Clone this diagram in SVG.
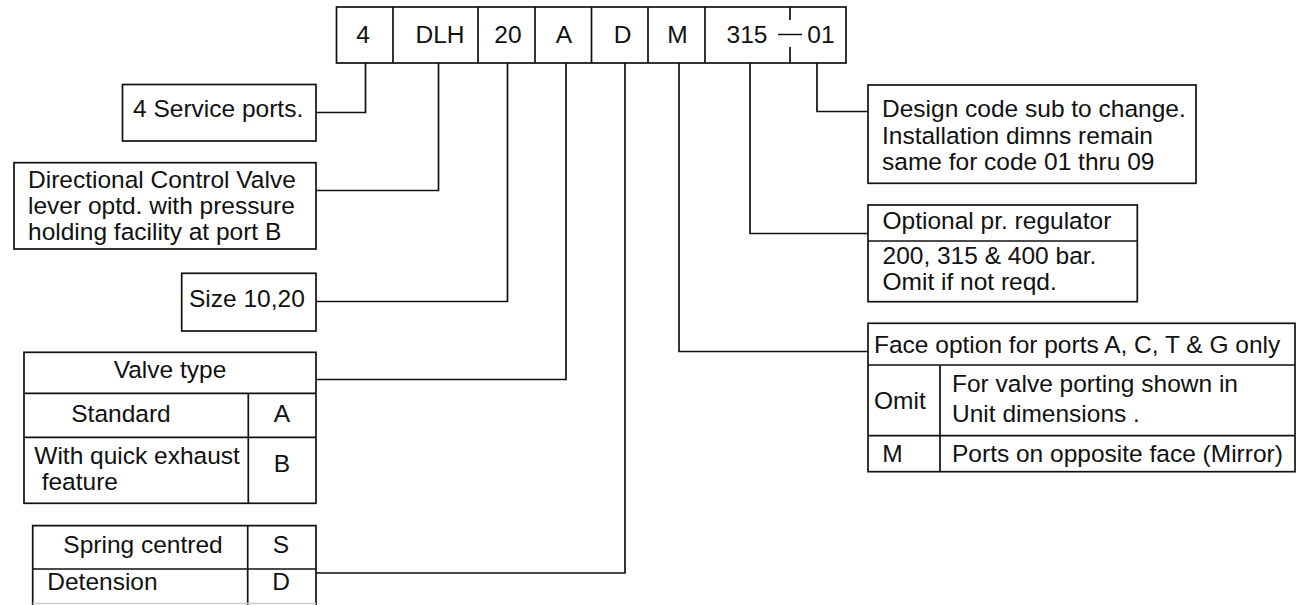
<svg xmlns="http://www.w3.org/2000/svg" width="1303" height="605" viewBox="0 0 1303 605">
<style>
.b{fill:#fff;stroke:#111;stroke-width:1.7}
.l{fill:none;stroke:#111;stroke-width:1.7}
.t{font-family:"Liberation Sans",Arial,sans-serif;font-size:24.5px;fill:#111}
.c{text-anchor:middle}
</style>
<rect width="1303" height="605" fill="#fff"/>
<g id="code">
<rect class="b" x="336.5" y="7" width="509.5" height="56"/>
<path class="l" d="M393 7V63M478 7V63M535 7V63M591.5 7V63M648 7V63M705 7V63M790 7V20M790 47V63M778 34.5H802"/>
<text class="t c" x="363" y="43">4</text>
<text class="t c" x="440" y="43">DLH</text>
<text class="t c" x="508" y="43">20</text>
<text class="t c" x="564" y="43">A</text>
<text class="t c" x="622.5" y="43">D</text>
<text class="t c" x="677.5" y="43">M</text>
<text class="t c" x="747" y="43">315</text>
<text class="t c" x="821" y="43">01</text>
</g>
<g id="connectors">
<path class="l" d="M365.5 63V112.5H316"/>
<path class="l" d="M438.5 63V190.5H316"/>
<path class="l" d="M507.5 63V301.5H316"/>
<path class="l" d="M566 63V379.5H316"/>
<path class="l" d="M625 63V573H316"/>
<path class="l" d="M679 63V351.5H868"/>
<path class="l" d="M750 63V233.5H868"/>
<path class="l" d="M817 63V111.5H868"/>
</g>
<g id="ports">
<rect class="b" x="122.5" y="84.5" width="193.5" height="56.5"/>
<text class="t" x="133" y="117">4 Service ports.</text>
</g>
<g id="dcv">
<rect class="b" x="14" y="162.7" width="302" height="86.3"/>
<text class="t" x="28" y="188">Directional Control Valve</text>
<text class="t" x="28" y="214">lever optd. with pressure</text>
<text class="t" x="28" y="240">holding facility at port B</text>
</g>
<g id="size">
<rect class="b" x="181.7" y="273.3" width="134.3" height="57.7"/>
<text class="t" x="189" y="307">Size 10,20</text>
</g>
<g id="valvetype">
<rect class="b" x="24" y="352.3" width="292" height="151"/>
<path class="l" d="M24 393.3H316M24 437.3H316M248.3 393.3V503.3"/>
<text class="t c" x="170" y="378">Valve type</text>
<text class="t c" x="121" y="422">Standard</text>
<text class="t c" x="282" y="422">A</text>
<text class="t" x="34.3" y="463.5">With quick exhaust</text>
<text class="t" x="41.7" y="490">feature</text>
<text class="t c" x="282" y="472">B</text>
</g>
<g id="spring">
<path class="l" d="M32.7 605V525.7H316V605M32.7 569H316M247.7 525.7V605"/>
<path d="M32.7 603.5H316" stroke="#ccc" stroke-width="1.5"/>
<text class="t c" x="143" y="552.5">Spring centred</text>
<text class="t c" x="281" y="552.5">S</text>
<text class="t" x="47.3" y="590">Detension</text>
<text class="t c" x="281" y="590">D</text>
</g>
<g id="design">
<rect class="b" x="868" y="85" width="328" height="98.3"/>
<text class="t" x="882" y="117">Design code sub to change.</text>
<text class="t" x="882" y="143.5">Installation dimns remain</text>
<text class="t" x="882" y="170">same for code 01 thru 09</text>
</g>
<g id="regulator">
<rect class="b" x="868" y="205" width="269.3" height="96.7"/>
<path class="l" d="M868 241H1137.3"/>
<text class="t" x="882.5" y="229">Optional pr. regulator</text>
<text class="t" x="882.5" y="264">200, 315 &amp; 400 bar.</text>
<text class="t" x="882.5" y="290">Omit if not reqd.</text>
</g>
<g id="face">
<rect class="b" x="868" y="323.3" width="427" height="148.4"/>
<path class="l" d="M868 365H1295M868 435.7H1295M940 365V471.7"/>
<text class="t" x="874" y="353">Face option for ports A, C, T &amp; G only</text>
<text class="t" x="874" y="409">Omit</text>
<text class="t" x="952" y="391.5">For valve porting shown in</text>
<text class="t" x="952" y="421.5">Unit dimensions .</text>
<text class="t c" x="892.5" y="462">M</text>
<text class="t" x="952" y="462">Ports on opposite face (Mirror)</text>
</g>
</svg>
